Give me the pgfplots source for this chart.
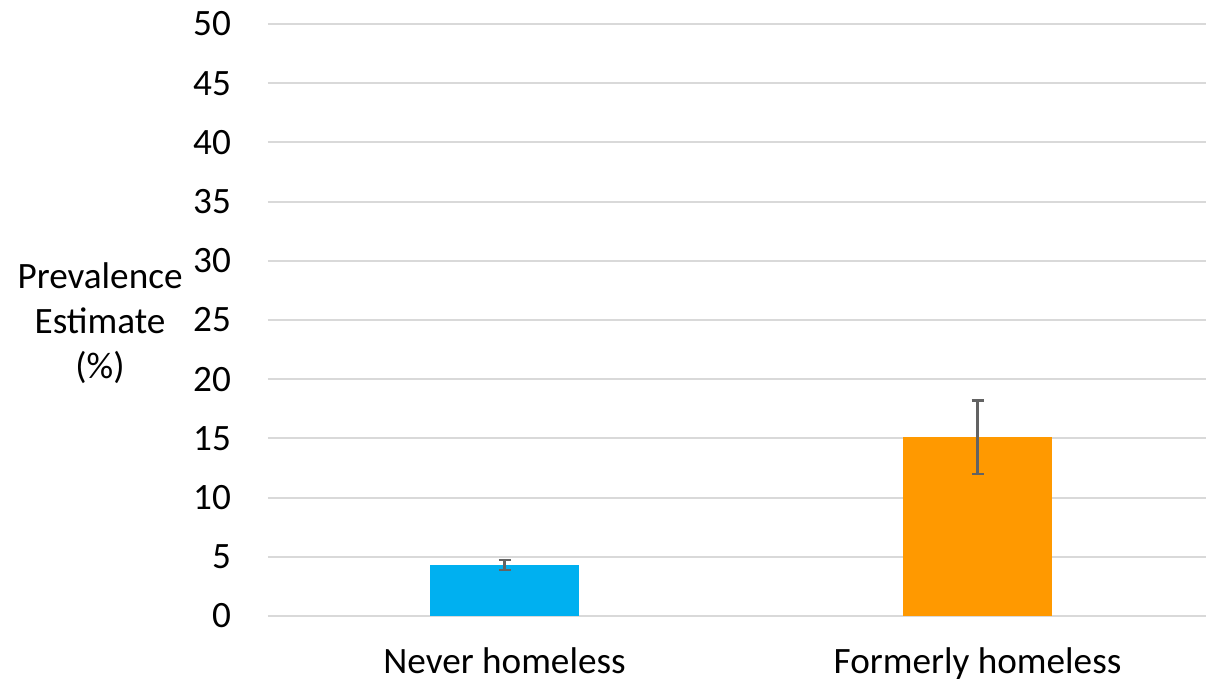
\documentclass[border=0pt]{standalone}
\usepackage{pgfplots}
\pgfplotsset{compat=1.18}
\usepackage{fontspec}
\setmainfont{Carlito}
\definecolor{barblue}{HTML}{00B0F0}
\definecolor{barorange}{HTML}{FF9900}
\definecolor{gridgray}{HTML}{D9D9D9}
\definecolor{errgray}{HTML}{636363}
\begin{document}
\begin{tikzpicture}
\begin{axis}[name=ax, scale only axis, width=469pt, height=296pt,
  xmin=-0.5, xmax=1.483, ymin=0, ymax=50, ytick={0,5,...,50},
  xtick={0,1}, xticklabels={Never homeless, Formerly homeless},
  axis line style={draw=none}, major tick length=0pt,
  ymajorgrids, grid style={gridgray, line width=1pt},
  tick label style={font=\fontsize{18.6}{22}\selectfont},
  /pgf/number format/assume math mode=true,
  yticklabel style={xshift=-15pt},
  xticklabel style={yshift=-12.5pt},
  clip=false]
\addplot[ybar, bar width=74.5pt, bar shift=0pt, fill=barblue, draw=none,
  error bars/.cd, y dir=both, y explicit,
  error bar style={errgray, line width=1.1pt},
  error mark options={rotate=90, mark size=3pt, errgray, line width=1.1pt}]
  coordinates {(0,4.3) +- (0,0.42)};
\addplot[ybar, bar width=74.5pt, bar shift=0pt, fill=barorange, draw=none,
  error bars/.cd, y dir=both, y explicit,
  error bar style={errgray, line width=1.1pt},
  error mark options={rotate=90, mark size=3pt, errgray, line width=1.1pt}]
  coordinates {(1,15.1) +- (0,3.1)};
\node[align=center, font=\fontsize{18.6}{22.5}\selectfont] at ([xshift=-84pt]rel axis cs:0,0.495) {Prevalence\\Estimate\\(\%)};
\end{axis}
\pgfresetboundingbox
\path ([shift={(-134pt,-33.5pt)}]ax.south west) rectangle ([shift={(0pt,12pt)}]ax.north east);
\end{tikzpicture}
\end{document}
